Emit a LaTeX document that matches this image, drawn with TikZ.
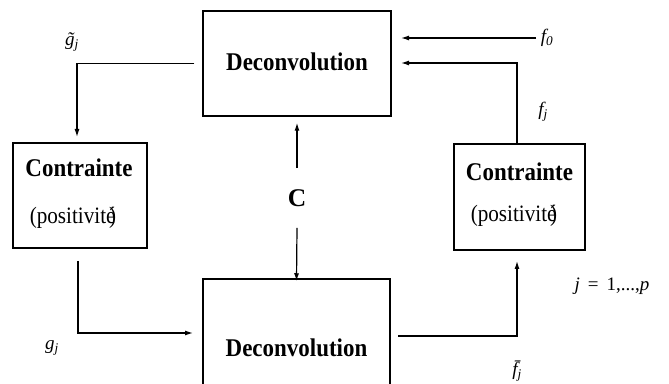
\documentclass[tikz,border=0pt]{standalone}
\usepackage{fontspec}
\setmainfont{Liberation Serif}
\usetikzlibrary{arrows.meta,calc}
\newcommand{\nar}[1]{\scalebox{0.9}[1]{#1}}
\begin{document}
\begin{tikzpicture}[x=1pt,y=1pt,
  box/.style={draw,line width=1.5pt,inner sep=0pt},
  big/.style={font=\bfseries\fontsize{25.5}{25}\selectfont,inner sep=0pt},
  small/.style={font=\fontsize{23.5}{23}\selectfont,inner sep=0pt},
  conn/.style={line width=1.2pt,-{Latex[length=8pt,width=5pt]}},
  lbl/.style={font=\itshape\fontsize{19}{19}\selectfont,inner sep=0pt}]
\useasboundingbox (0,0) rectangle (669,383);
% boxes
\node[box,minimum width=188pt,minimum height=105pt] (top) at (297,319.5) {};
\node[big] (toptxt) at (297,321) {\nar{Deconvolution}};
\node[box,minimum width=134pt,minimum height=105pt] (left) at (80,187.5) {};
\node[big] (lc) at (79,215) {\nar{Contrainte}};
\node[small] (lp) at (73,165) {\nar{(positivité\kern-0.3em)}};
\node[box,minimum width=131pt,minimum height=106pt] (right) at (519.5,186) {};
\node[big] (rc) at (519.5,211) {\nar{Contrainte}};
\node[small] (rp) at (514,167) {\nar{(positivité\kern-0.3em)}};
\node[box,minimum width=187pt,minimum height=140pt] (bot) at (296.5,34) {};
\node[big] (bottxt) at (296.5,35) {\nar{Deconvolution}};
\node[big] (C) at (297,185) {C};
% labels
\node[lbl] (f0) at (547,345) {f\textsubscript{0}};
\node[lbl] (fj) at (543,271) {f\textsubscript{j}};
\node[lbl] (gt) at (72,341) {\~g\textsubscript{j}};
\node[lbl] (gj) at (52,35) {g\textsubscript{j}};
\node[lbl] (fb) at (517,12) {\=f\textsubscript{j}};
\node[lbl,font=\fontsize{19}{19}\selectfont] (jr) at (612,97) {\textit{j}\, = \,1,...,\textit{p}};
% connector points
\coordinate (a1) at ([xshift=-8pt]top.west);
\coordinate (a2) at (77,246);
\coordinate (b1) at (78,122);
\coordinate (b2) at (193,50);
\coordinate (c1) at (398,47);
\coordinate (c2) at (517,122);
\coordinate (d1) at (517,239);
\coordinate (d2) at (401,320);
\coordinate (e1) at (536,345);
\coordinate (e2) at (401,345);
% connectors
\draw[conn] (a1) -| (a2);
\draw[conn] (b1) |- (b2);
\draw[conn] (c1) -| (c2);
\draw[conn] (d1) |- (d2);
\draw[conn] (e1) -- (e2);
\draw[conn] ([yshift=-21pt]C.south) -- ([yshift=-3pt]bot.north);
\draw[conn] ([yshift=21pt]C.north) -- ([yshift=-6pt]top.south);
\end{tikzpicture}
\end{document}
